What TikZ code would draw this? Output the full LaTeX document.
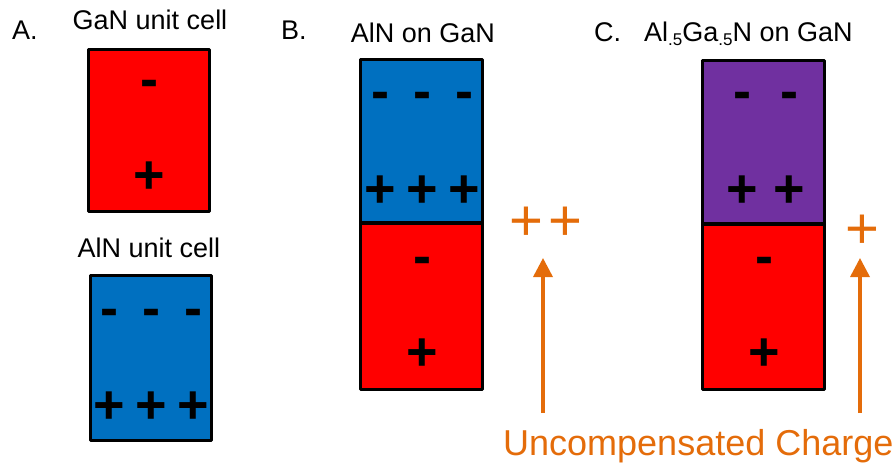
\documentclass[tikz,border=0pt]{standalone}
\usepackage{fontspec}
\setmainfont{Liberation Sans}
\usetikzlibrary{arrows.meta}
\definecolor{ganred}{HTML}{FF0000}
\definecolor{alnblue}{HTML}{0070C0}
\definecolor{algapurple}{HTML}{7030A0}
\definecolor{chargeorange}{HTML}{E46C0A}
\newcommand{\lblfont}{\fontsize{27}{32}\selectfont}
\newcommand{\sgnfont}{\fontsize{54}{60}\selectfont\bfseries}
\newcommand{\osgnfont}{\fontsize{58}{64}\selectfont}
\newcommand{\subfive}{\raisebox{-5pt}{\fontsize{17}{20}\selectfont .5}}
\begin{document}
\begin{tikzpicture}[x=1pt,y=-1pt,
  cell/.style={draw=black, line width=3.2pt, rectangle, inner sep=0pt, line join=round},
  lbl/.style={font=\lblfont, anchor=base, inner sep=0pt},
  lblw/.style={font=\lblfont, anchor=base west, inner sep=0pt},
  mn/.style={font=\sgnfont, anchor=base, inner sep=0pt, yshift=-14pt},
  pl/.style={font=\sgnfont, anchor=base, inner sep=0pt, yshift=-19pt},
  opl/.style={font=\osgnfont, text=chargeorange, anchor=base, inner sep=0pt, yshift=-20pt},
  charrow/.style={draw=chargeorange, line width=3.5pt, -{Triangle[width=19pt,length=19pt]}}]
\useasboundingbox (0,0) rectangle (895,463);
% Panel A
\node[lblw] (labA) at (12,39) {A.};
\node[lbl] (tGaN) at (150,29) {GaN unit cell};
\node[cell, fill=ganred, minimum width=121pt, minimum height=162pt] (cellGaN) at (149,130.5) {};
\node[mn] (aGm) at (149,83) {-};
\node[pl] (aGp) at (149,174) {+};
\node[lbl] (tAlN) at (149,257) {AlN unit cell};
\node[cell, fill=alnblue, minimum width=121pt, minimum height=165pt] (cellAlN) at (151,358) {};
\node[mn] (aAm1) at (109,312) {-};
\node[mn] (aAm2) at (151,312) {-};
\node[mn] (aAm3) at (193,312) {-};
\node[pl] (aAp1) at (109,404) {+};
\node[pl] (aAp2) at (151,404) {+};
\node[pl] (aAp3) at (193,404) {+};
% Panel B
\node[lblw] (labB) at (281,39) {B.};
\node[lbl] (tB) at (423,42) {AlN on GaN};
\node[cell, fill=alnblue, minimum width=122pt, minimum height=163.5pt] (bTop) at (421.5,141.25) {};
\node[cell, fill=ganred, minimum width=122pt, minimum height=166.5pt] (bBot) at (421.5,306.25) {};
\node[mn] (bm1) at (380,95) {-};
\node[mn] (bm2) at (422,95) {-};
\node[mn] (bm3) at (464,95) {-};
\node[pl] (bp1) at (380,188) {+};
\node[pl] (bp2) at (422,188) {+};
\node[pl] (bp3) at (464,188) {+};
\node[mn] (bm4) at (422,260) {-};
\node[pl] (bp4) at (422,351) {+};
\node[opl] (bo1) at (526,220) {+};
\node[opl] (bo2) at (565,220) {+};
\coordinate (bArrS) at (543,413);
\coordinate (bArrE) at (543,258);
\draw[charrow] (bArrS) -- (bArrE);
% Panel C
\node[lblw] (labC) at (594,41) {C.};
\node[lblw] (tC) at (644,41) {Al\subfive Ga\subfive N on GaN};
\node[cell, fill=algapurple, minimum width=122pt, minimum height=163.5pt] (cTop) at (763.5,142.25) {};
\node[cell, fill=ganred, minimum width=122pt, minimum height=165.5pt] (cBot) at (763.5,306.75) {};
\node[mn] (cm1) at (742,95) {-};
\node[mn] (cm2) at (789,95) {-};
\node[pl] (cp1) at (742,188) {+};
\node[pl] (cp2) at (789,188) {+};
\node[mn] (cm3) at (764,260) {-};
\node[pl] (cp3) at (764,351) {+};
\node[opl] (co1) at (862,228) {+};
\coordinate (cArrS) at (860,413);
\coordinate (cArrE) at (860,258);
\draw[charrow] (cArrS) -- (cArrE);
\node[font=\fontsize{36}{42}\selectfont, text=chargeorange, anchor=base west, inner sep=0pt] (uncomp) at (503,455) {Uncompensated Charge};
\end{tikzpicture}
\end{document}
